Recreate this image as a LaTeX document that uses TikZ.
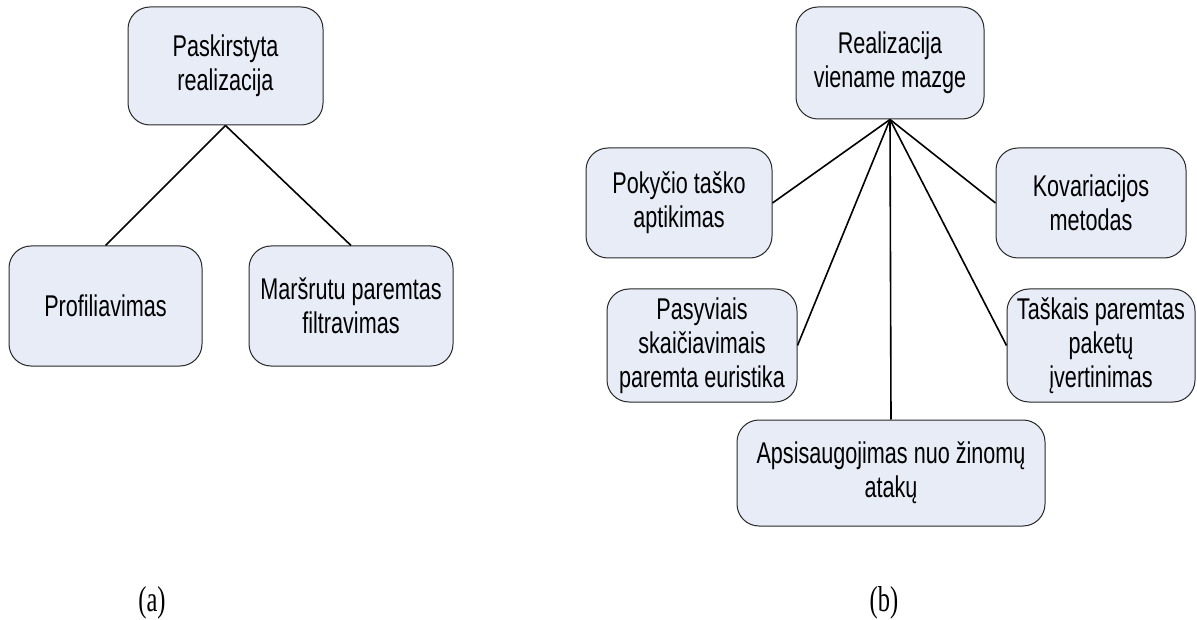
\documentclass[tikz,border=0pt]{standalone}
\usepackage{fontspec}
\setmainfont[FakeStretch=0.72]{Liberation Sans}
\newfontfamily\capfont[FakeStretch=0.68]{Liberation Serif}
\definecolor{boxfill}{RGB}{231,236,247}
\definecolor{boxline}{RGB}{40,40,40}
\begin{document}
\begin{tikzpicture}[x=1pt,y=-1pt,
  box/.style={draw=boxline, line width=1pt, fill=boxfill, rounded corners=22pt,
    align=center, inner sep=0pt, font=\fontsize{30}{34}\selectfont},
  link/.style={line width=1.6pt, black},
  caption/.style={font=\capfont\fontsize{36}{40}\selectfont}]
\useasboundingbox (0,0) rectangle (1197,620);

% (a) distributed realisation
\node[box, minimum width=195pt, minimum height=118pt] (pask) at (225.5,66) {Paskirstyta\\realizacija};
\node[box, minimum width=193pt, minimum height=120pt] (prof) at (105.5,306) {Profiliavimas};
\node[box, minimum width=204pt, minimum height=120pt] (mars) at (351,306) {Maršrutu paremtas\\filtravimas};

\draw[link] (pask.south) -- (prof.north);
\draw[link] (pask.south) -- (mars.north);

% (b) single-node realisation
\node[box, minimum width=188pt, minimum height=112pt] (real) at (890,63) {Realizacija\\viename mazge};
\node[box, minimum width=186pt, minimum height=110pt] (pok) at (679,203) {Pokyčio taško\\aptikimas};
\node[box, minimum width=190pt, minimum height=110pt] (kov) at (1091,203) {Kovariacijos\\metodas};
\node[box, minimum width=190pt, minimum height=113pt] (pas) at (702,345.5) {Pasyviais\\skaičiavimais\\paremta euristika};
\node[box, minimum width=188pt, minimum height=113pt] (tas) at (1101,345.5) {Taškais paremtas\\paketų\\įvertinimas};
\node[box, minimum width=308pt, minimum height=106pt] (aps) at (891,473) {Apsisaugojimas nuo žinomų\\atakų};

\draw[link] (real.south) -- (pok.east);
\draw[link] (real.south) -- (kov.west);
\draw[link] (real.south) -- (pas.east);
\draw[link] (real.south) -- (tas.west);
\draw[link] (real.south) -- (aps.north);

% captions
\node[caption] (capa) at (152,603) {(a)};
\node[caption] (capb) at (884,603) {(b)};
\end{tikzpicture}
\end{document}
